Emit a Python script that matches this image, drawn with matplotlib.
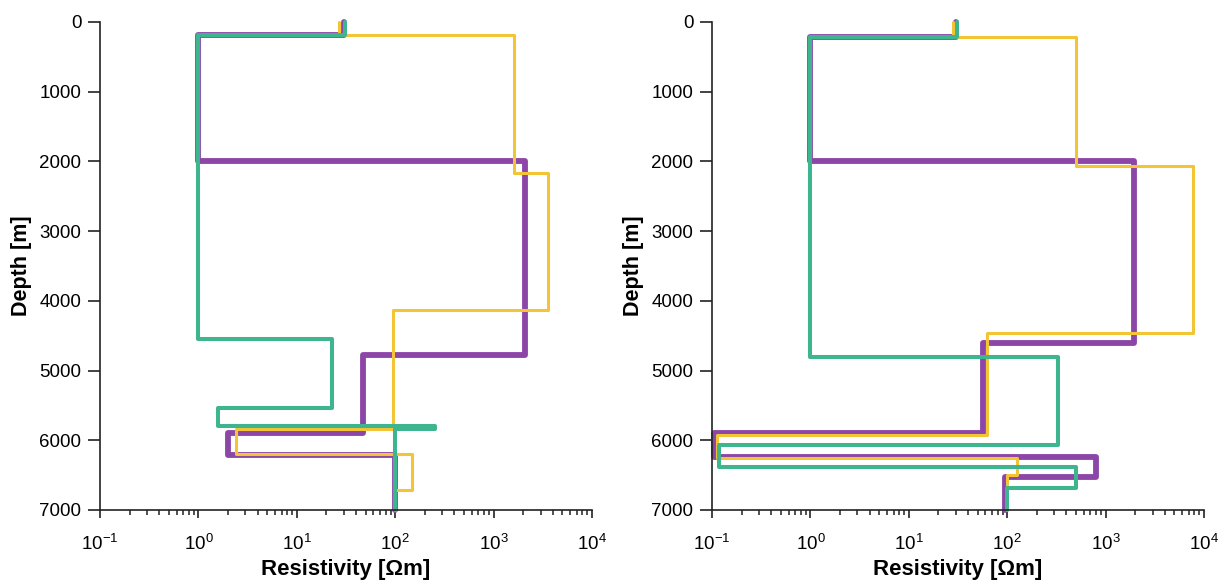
import numpy as np
import matplotlib
matplotlib.use("Agg")
import matplotlib.pyplot as plt
from matplotlib.ticker import LogLocator, FixedLocator, NullFormatter

plt.rcParams['font.family'] = ['Liberation Sans', 'DejaVu Sans']
plt.rcParams['mathtext.fontset'] = 'custom'
plt.rcParams['mathtext.rm'] = 'Liberation Sans'
plt.rcParams['mathtext.it'] = 'Liberation Sans:italic'
plt.rcParams['mathtext.bf'] = 'Liberation Sans:bold'

DEPTH_MAX = 7000

# Layered resistivity models: layer resistivities [Ohm m] and layer top depths [m]
left_purple_rho = [30, 1.0, 2100, 47, 2.0, 100]
left_purple_top = [0, 180, 2000, 4770, 5900, 6210]
left_yellow_rho = [27, 1600, 3550, 95, 2.4, 148, 100]
left_yellow_top = [0, 180, 2170, 4130, 5840, 6200, 6710]
left_green_rho = [31, 1.0, 23, 1.6, 255, 100]
left_green_top = [0, 180, 4540, 5540, 5796, 5843]

right_purple_rho = [30, 1.0, 1950, 57, 0.105, 800, 95]
right_purple_top = [0, 210, 2000, 4600, 5900, 6240, 6530]
right_yellow_rho = [28, 500, 7800, 63, 0.112, 125, 100]
right_yellow_top = [0, 210, 2070, 4460, 5930, 6255, 6500]
right_green_rho = [31, 1.0, 330, 0.118, 500, 100]
right_green_top = [0, 210, 4800, 6070, 6385, 6690]

yticks = [0, 1000, 2000, 3000, 4000, 5000, 6000, 7000]
xticks = [1e-1, 1e0, 1e1, 1e2, 1e3, 1e4]
xtick_labels = [r'$10^{-1}$', r'$10^{0}$', r'$10^{1}$', r'$10^{2}$', r'$10^{3}$', r'$10^{4}$']

PURPLE = '#8C46A8'
YELLOW = '#F2C436'
GREEN = '#3EB58E'


def profile(rho, tops):
    """Turn a layered model into a step path (x = resistivity, y = depth)."""
    rho = np.asarray(rho, dtype=float)
    tops = np.asarray(tops, dtype=float)
    bottoms = np.append(tops[1:], DEPTH_MAX)
    x = np.repeat(rho, 2)
    y = np.column_stack([tops, bottoms]).ravel()
    return x, y


fig = plt.figure(figsize=(12.23, 5.83), dpi=100)
W, H = 1223, 583
ax_left = fig.add_axes([100 / W, 1 - 510 / H, 492 / W, 488 / H])
ax_right = fig.add_axes([712 / W, 1 - 510 / H, 492 / W, 488 / H])

panels = [
    (ax_left, [(left_purple_rho, left_purple_top, PURPLE, 4.2),
               (left_yellow_rho, left_yellow_top, YELLOW, 2.2),
               (left_green_rho, left_green_top, GREEN, 2.9)]),
    (ax_right, [(right_purple_rho, right_purple_top, PURPLE, 4.2),
                (right_yellow_rho, right_yellow_top, YELLOW, 2.2),
                (right_green_rho, right_green_top, GREEN, 2.9)]),
]

for ax, series in panels:
    for rho, tops, color, lw in series:
        x, y = profile(rho, tops)
        ax.plot(x, y, color=color, lw=lw, solid_joinstyle='round',
                solid_capstyle='round', clip_on=False)

    ax.set_xscale('log')
    ax.set_xlim(1e-1, 1e4)
    ax.set_ylim(DEPTH_MAX, 0)
    ax.xaxis.set_major_locator(FixedLocator(xticks))
    ax.set_xticklabels(xtick_labels)
    ax.xaxis.set_minor_locator(LogLocator(base=10, subs=np.arange(2, 10)))
    ax.xaxis.set_minor_formatter(NullFormatter())
    ax.set_yticks(yticks)
    ax.set_yticklabels([str(v) for v in yticks])

    for side in ('top', 'right'):
        ax.spines[side].set_visible(False)
    for side in ('left', 'bottom'):
        ax.spines[side].set_linewidth(1.2)
        ax.spines[side].set_color('#222222')

    ax.tick_params(axis='y', which='major', direction='out', length=8.5,
                   width=1.2, labelsize=13.5, pad=5, color='#222222')
    ax.tick_params(axis='x', which='major', direction='out', length=6,
                   width=1.2, labelsize=13.5, pad=11, color='#222222')
    ax.tick_params(axis='x', which='minor', direction='out', length=3.5,
                   width=1.1, color='#222222')

    ax.set_xlabel('Resistivity [\u03a9m]', fontsize=16, fontweight='bold',
                  labelpad=0)
    ax.xaxis.set_label_coords(0.5, -0.1, transform=ax.transAxes)
    ax.set_ylabel('Depth [m]', fontsize=15.5, fontweight='bold', labelpad=5)
    ax.patch.set_alpha(0)

fig.savefig('out.png', dpi=100, facecolor='white')
